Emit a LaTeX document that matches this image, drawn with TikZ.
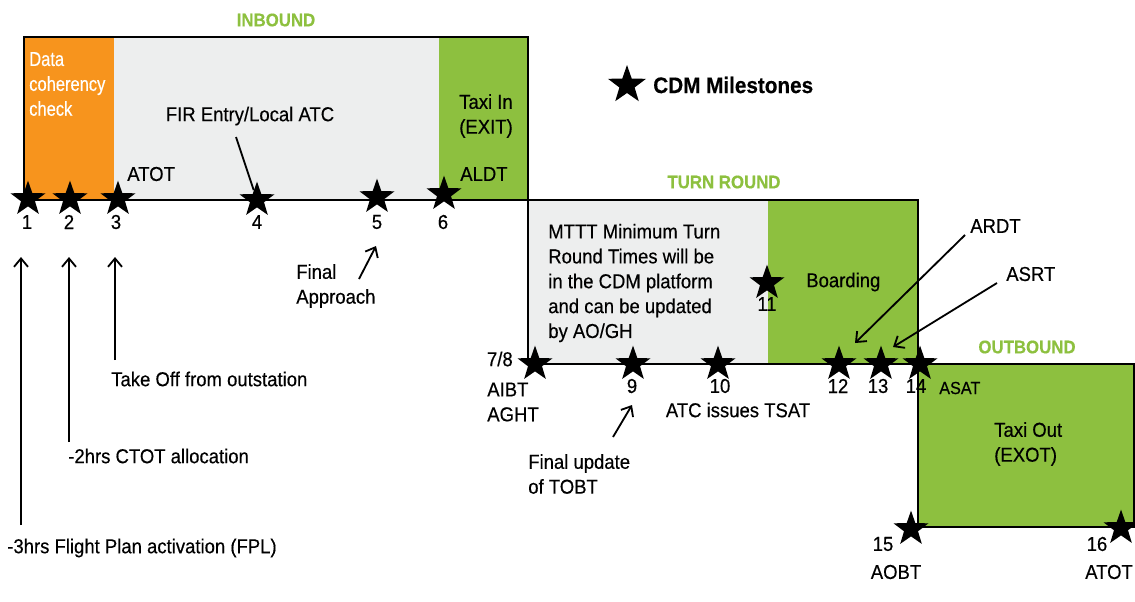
\documentclass[tikz,border=0pt]{standalone}
\usepackage{fontspec}
\setmainfont{Liberation Sans}[FakeStretch=0.92, FakeBold=0.4]
\newfontfamily\narrowfont{Liberation Sans}[FakeStretch=0.82, FakeBold=0.4]
\usetikzlibrary{shapes.geometric, arrows.meta}
\definecolor{cdmorange}{HTML}{F7941D}
\definecolor{cdmgreen}{HTML}{8DC03F}
\definecolor{cdmgray}{HTML}{EDEEEE}

\begin{document}
\begin{tikzpicture}[x=0.025cm, y=-0.025cm, >={Straight Barb[length=6pt, width=10pt]}]
\tikzset{ txt/.style={inner sep=0pt, align=left, font=\fontsize{14.3}{17.7}\selectfont},
          phase/.style={inner sep=0pt, text=cdmgreen, font=\fontsize{13}{15}\selectfont\bfseries},
          mstar/.style={star, star points=5, star point ratio=2.5, fill=black,
                        minimum size=0.92cm, inner sep=0pt},
          frame/.style={draw=black, line width=1.6pt},
          link/.style={line width=1.3pt} };

\useasboundingbox (0,0) rectangle (1135,601);

\fill[cdmorange] (24,37) rectangle (114,200);
\fill[cdmgray] (114,37) rectangle (439,200);
\fill[cdmgreen] (439,37) rectangle (528,200);
\fill[cdmgray] (528,200) rectangle (768,364);
\fill[cdmgreen] (768,200) rectangle (918,364);
\fill[cdmgreen] (918,364) rectangle (1134,527);

\node[phase] (inbound) at (276,20) {INBOUND};
\node[phase] (turnround) at (724,182) {TURN ROUND};
\node[phase] (outbound) at (1027,347) {OUTBOUND};

\node[txt, text=white, anchor=west, font=\fontsize{14.3}{17.7}\narrowfont] (datacheck) at (29,84) {Data\\coherency\\check};
\node[txt] (fir) at (250,116) {FIR Entry/Local ATC};
\node[txt, anchor=west] (atot) at (127,174) {ATOT};
\node[txt, anchor=west] (taxiin) at (459,116) {Taxi In\\(EXIT)};
\node[txt, anchor=west] (aldt) at (460,174) {ALDT};
\node[txt, anchor=west] (mttt) at (548,283) {MTTT Minimum Turn\\Round Times will be\\in the CDM platform\\and can be updated\\by AO/GH};
\node[txt, anchor=west] (boarding) at (806,282) {Boarding};
\node[txt, anchor=east] (aibtnum) at (513,359) {7/8};
\node[txt, anchor=west] (aibt) at (487,402) {AIBT\\AGHT};
\node[txt] (tsat) at (738,410) {ATC issues TSAT};
\node[txt, anchor=west] (tobt) at (528,474) {Final update\\of TOBT};
\node[txt, anchor=west] (approach) at (296,286) {Final\\Approach};
\node[txt, anchor=west] (takeoff) at (111,379) {Take Off from outstation};
\node[txt, anchor=west] (ctot) at (68,456) {-2hrs CTOT allocation};
\node[txt, anchor=west] (fpl) at (7,548) {-3hrs Flight Plan activation (FPL)};
\node[txt, anchor=west] (ardt) at (970,226) {ARDT};
\node[txt, anchor=west] (asrt) at (1006,274) {ASRT};
\node[txt, anchor=west, font=\fontsize{12.5}{14}\selectfont] (asat) at (939,388) {ASAT};
\node[txt, anchor=west] (taxiout) at (994,444) {Taxi Out\\(EXOT)};
\node[txt] (aobt) at (896,572) {AOBT};
\node[txt] (atotout) at (1109,572) {ATOT};
\node[txt, anchor=west, font=\fontsize{16}{19}\selectfont\bfseries] (legend) at (653,85) {CDM Milestones};

\node[txt] (n1) at (27,222) {1};
\node[txt] (n2) at (69,222) {2};
\node[txt] (n3) at (116,222) {3};
\node[txt] (n4) at (257,222) {4};
\node[txt] (n5) at (377,222) {5};
\node[txt] (n6) at (443,222) {6};
\node[txt] (n9) at (632,386) {9};
\node[txt] (n10) at (720,386) {10};
\node[txt] (n11) at (767,304) {11};
\node[txt] (n12) at (838,386) {12};
\node[txt] (n13) at (878,386) {13};
\node[txt] (n14) at (916,386) {14};
\node[txt] (n15) at (883,544) {15};
\node[txt] (n16) at (1097,544) {16};

\draw[frame] (24,37) rectangle (528,200);
\draw[frame] (528,200) rectangle (918,364);
\draw[frame] (918,364) rectangle (1134,527);

\node[mstar, minimum size=1cm] (legendstar) at (627,85) {};
\node[mstar] (s1) at (28,199) {};
\node[mstar] (s2) at (70,199) {};
\node[mstar] (s3) at (118,199) {};
\node[mstar] (s4) at (257,200) {};
\node[mstar] (s5) at (377,197) {};
\node[mstar] (s6) at (444,194) {};
\node[mstar] (s78) at (535,364) {};
\node[mstar] (s9) at (633,364) {};
\node[mstar] (s10) at (718,364) {};
\node[mstar] (s11) at (767,283) {};
\node[mstar] (s12) at (839,364) {};
\node[mstar] (s13) at (881,364) {};
\node[mstar] (s14) at (920,364) {};
\node[mstar] (s15) at (911,529) {};
\node[mstar] (s16) at (1121,528) {};

\coordinate (firtail) at (236,137);
\coordinate (fplbot) at (21,525);
\coordinate (fpltip) at (21,257);
\coordinate (ctotbot) at (69,442);
\coordinate (ctottip) at (69,257);
\coordinate (takeoffbot) at (115,360);
\coordinate (takeofftip) at (115,257);
\coordinate (approachtail) at (359,279);
\coordinate (approachtip) at (376,246);
\coordinate (tobttail) at (613,437);
\coordinate (tobttip) at (632,405);
\coordinate (ardttail) at (965,235);
\coordinate (ardttip) at (855,343);
\coordinate (asrttail) at (997,283);
\coordinate (asrttip) at (893,347);

\draw[link] (firtail) -- (s4);
\draw[link, ->] (fplbot) -- (fpltip);
\draw[link, ->] (ctotbot) -- (ctottip);
\draw[link, ->] (takeoffbot) -- (takeofftip);
\draw[link, ->] (approachtail) -- (approachtip);
\draw[link, ->] (tobttail) -- (tobttip);
\draw[link, ->] (ardttail) -- (ardttip);
\draw[link, ->] (asrttail) -- (asrttip);

\end{tikzpicture}
\end{document}
